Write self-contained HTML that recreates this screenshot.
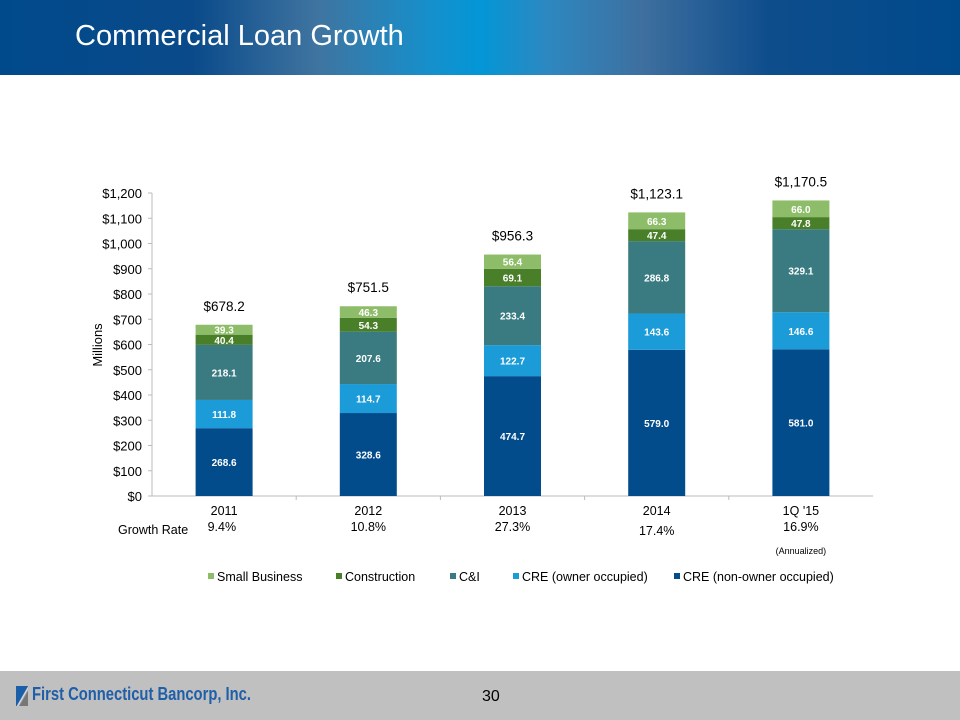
<!DOCTYPE html>
<html><head><meta charset="utf-8"><style>
body{margin:0;width:960px;height:720px;overflow:hidden;background:#fff;font-family:"Liberation Sans",Arial,sans-serif;position:relative}
#hdr{position:absolute;left:0;top:0;width:960px;height:75px;background:linear-gradient(90deg,#004a8c 0%,#0a4a8a 20%,#3f74a0 33%,#1590cc 45%,#0396d6 50%,#2d88c0 57%,#3e6f9f 67%,#0e4d8c 80%,#004a8c 100%)}
#title{position:absolute;left:75px;top:20px;color:#fff;font-size:29px}
#ftr{position:absolute;left:0;top:671px;width:960px;height:49px;background:#c0c0c0}
#logo{position:absolute;left:16px;top:686px;width:12px;height:20px;background:linear-gradient(120deg,#1a5fa8 50%,#eee 55%,#777 65%)}
#co{position:absolute;left:32px;top:684px;font-size:18px;font-weight:bold;color:#1f5ea8;transform:scaleX(0.82);transform-origin:left}
#pg{position:absolute;left:482px;top:688px;font-size:16px;color:#000}
svg{position:absolute;left:0;top:0}
</style></head><body>
<div id="hdr"><div id="title">Commercial Loan Growth</div></div>
<svg id="chart" width="960" height="720"></svg>
<div id="ftr"></div>
<div id="logo"></div>
<div id="co">First Connecticut Bancorp, Inc.</div>
<div id="pg">30</div>
<script>
const categories=["2011","2012","2013","2014","1Q '15"];
const creNonOwner=[268.6,328.6,474.7,579.0,581.0];
const creOwner=[111.8,114.7,122.7,143.6,146.6];
const cni=[218.1,207.6,233.4,286.8,329.1];
const construction=[40.4,54.3,69.1,47.4,47.8];
const smallBusiness=[39.3,46.3,56.4,66.3,66.0];
const totals=["$678.2","$751.5","$956.3","$1,123.1","$1,170.5"];
const growthRates=["9.4%","10.8%","27.3%","17.4%","16.9%"];
const yTicks=[0,100,200,300,400,500,600,700,800,900,1000,1100,1200];
const seriesNames=["CRE (non-owner occupied)","CRE (owner occupied)","C&I","Construction","Small Business"];
const series=[creNonOwner,creOwner,cni,construction,smallBusiness];
const colors=["#034c8c","#1b9bd7","#3a7b82","#4a7f2a","#8dbd68"];
const NS="http://www.w3.org/2000/svg",svg=document.getElementById('chart');
const x0=152,x1=873,y0=496,y1=193,yMax=1200;
const y=v=>y0-(v/yMax)*(y0-y1);
const bw=(x1-x0)/categories.length;
const xc=i=>x0+bw*(i+0.5);
function mk(t,a,txt){const e=document.createElementNS(NS,t);for(const k in a)e.setAttribute(k,a[k]);if(txt!=null)e.textContent=txt;svg.appendChild(e);return e;}
let e;
e=mk('line',{x1:x0,y1:y1,x2:x0,y2:y0,stroke:'#bbb'});


e=mk('line',{x1:x0,y1:y0,x2:x1,y2:y0,stroke:'#bbb'});


yTicks.forEach(v=>{
 mk('line',{x1:x0-4,y1:y(v),x2:x0,y2:y(v),stroke:'#bbb'});
 e=mk('text',{x:x0-10,y:y(v)+5,'text-anchor':'end','font-size':13,fill:'#000'},'$'+v.toLocaleString('en-US'));
 
 
});
for(let i=1;i<categories.length;i++)mk('line',{x1:x0+bw*i,y1:y0,x2:x0+bw*i,y2:y0+4,stroke:'#bbb'});
e=mk('text',{x:0,y:0,'font-size':13,'text-anchor':'middle',transform:'translate(102,345) rotate(-90)'},'Millions');


categories.forEach((c,i)=>{
 let acc=0;const bx=xc(i)-28.5;
 series.forEach((s,k)=>{
  const v=s[i];
  e=mk('rect',{x:bx,y:y(acc+v),width:57,height:y(acc)-y(acc+v),fill:colors[k]});
  
  
  e=mk('text',{x:xc(i),y:(y(acc)+y(acc+v))/2+4,'text-anchor':'middle','font-size':10,'font-weight':'bold',fill:'#fff'},v.toFixed(1));
  
  
  acc+=v;
 });
 e=mk('text',{x:xc(i),y:y(acc)-14,'text-anchor':'middle','font-size':13.5},totals[i]);
 
 
 e=mk('text',{x:xc(i),y:515,'text-anchor':'middle','font-size':12.5},c);
 
 
 e=mk('text',{x:i==0?bx+12:xc(i),y:i==3?535:531,'text-anchor':i==0?'start':'middle','font-size':12.5},growthRates[i]);
 
 
});
e=mk('text',{x:118,y:534,'font-size':12.5},'Growth Rate');


e=mk('text',{x:xc(4),y:554,'text-anchor':'middle','font-size':9},'(Annualized)');


const legX=[208,336,450,513,674];
[4,3,2,1,0].forEach((k,j)=>{
 mk('rect',{x:legX[j],y:573,width:6,height:6,fill:colors[k]});
 e=mk('text',{x:legX[j]+9,y:581,'font-size':12.5},seriesNames[k]);
 
 
});
</script>
</body></html>
